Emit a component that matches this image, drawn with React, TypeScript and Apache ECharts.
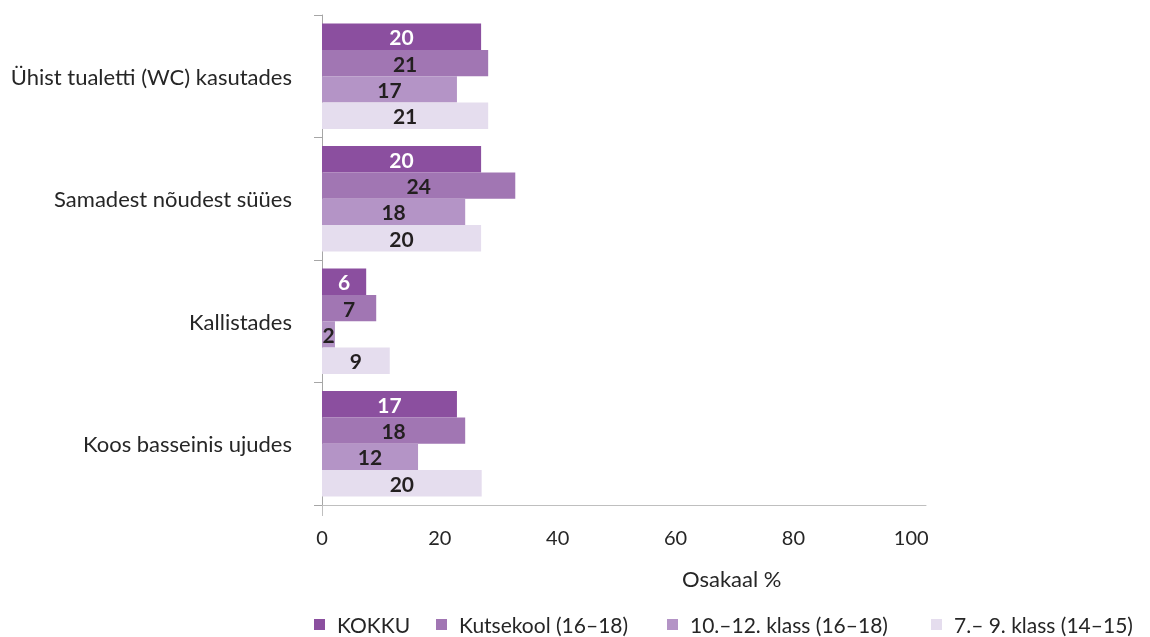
import React, { useEffect, useRef } from "react";
import * as echarts from "echarts";

const categories = [
  "Ühist tualetti (WC) kasutades",
  "Samadest nõudest süües",
  "Kallistades",
  "Koos basseinis ujudes",
];
const seriesNames = ["KOKKU", "Kutsekool (16–18)", "10.–12. klass (16–18)", "7.– 9. klass (14–15)"];
const xTicks = [0, 20, 40, 60, 80, 100];

// bar lengths as drawn on the x scale
const kokkuBars = [27.0, 27.0, 7.5, 22.9];
const kutseBars = [28.2, 32.8, 9.2, 24.3];
const gymBars = [22.9, 24.3, 2.2, 16.3];
const basicBars = [28.2, 27.0, 11.5, 27.1];
// numbers printed on the bars
const kokkuLabels = [20, 20, 6, 17];
const kutseLabels = [21, 24, 7, 18];
const gymLabels = [17, 18, 2, 12];
const basicLabels = [21, 20, 9, 20];

const colors = ["#8B4F9F", "#A176B3", "#B494C6", "#E5DDEE"];
const labelColors = ["#ffffff", "#231F20", "#231F20", "#231F20"];
const legendLefts = [314, 436, 667, 931];
const FONT = "Lato";

export default function App() {
  const ref = useRef<HTMLDivElement>(null);
  useEffect(() => {
    if (!ref.current) return;
    const chart = echarts.init(ref.current, undefined, { renderer: "svg" });
    const bars = [kokkuBars, kutseBars, gymBars, basicBars];
    const labels = [kokkuLabels, kutseLabels, gymLabels, basicLabels];
    chart.setOption({
      animation: false,
      textStyle: { fontFamily: FONT },
      grid: { left: 322, top: 15, width: 604, height: 490, containLabel: false },
      legend: seriesNames.map((n, i) => ({
        left: legendLefts[i],
        top: 613,
        padding: 0,
        icon: "rect",
        itemWidth: 11,
        itemHeight: 11,
        data: [n],
        textStyle: { fontFamily: FONT, fontSize: 21, lineHeight: 23, color: "#262626", padding: [0, 0, 0, 7] },
      })),
      xAxis: {
        type: "value",
        min: 0,
        max: 102.5,
        interval: 20,
        splitLine: { show: false },
        axisTick: { show: false },
        axisLine: { show: true, lineStyle: { color: "#BFBFBF", width: 1 } },
        axisLabel: {
          margin: 22,
          fontFamily: FONT,
          fontSize: 20,
          color: "#262626",
          formatter: (v: number) => (xTicks.indexOf(v) >= 0 ? String(v) : ""),
        },
      },
      yAxis: {
        type: "category",
        data: categories,
        inverse: true,
        axisLine: { show: true, lineStyle: { color: "#A6A6A6", width: 1 } },
        axisTick: { show: true, length: 8, lineStyle: { color: "#A6A6A6" } },
        axisLabel: { margin: 30, fontFamily: FONT, fontSize: 22, color: "#262626" },
      },
      graphic: [
        { type: "line", shape: { x1: 322.5, y1: 505, x2: 322.5, y2: 516 }, style: { stroke: "#BFBFBF", lineWidth: 1 } },
        {
          type: "text",
          left: 682,
          top: 567,
          style: { text: "Osakaal %", font: `22px ${FONT}`, fill: "#262626" },
        },
      ],
      series: bars.map((b, i) => ({
        name: seriesNames[i],
        type: "bar",
        data: b,
        barGap: "0%",
        barCategoryGap: "14%",
        itemStyle: { color: colors[i] },
        label: {
          show: true,
          position: "inside",
          fontFamily: FONT,
          fontWeight: "bold",
          fontSize: 21,
          color: labelColors[i],
          formatter: (p: any) => String(labels[i][p.dataIndex]),
        },
      })),
    });
    return () => chart.dispose();
  }, []);
  return <div ref={ref} style={{ position: "fixed", left: 0, top: 0, width: 1150, height: 637 }} />;
}
